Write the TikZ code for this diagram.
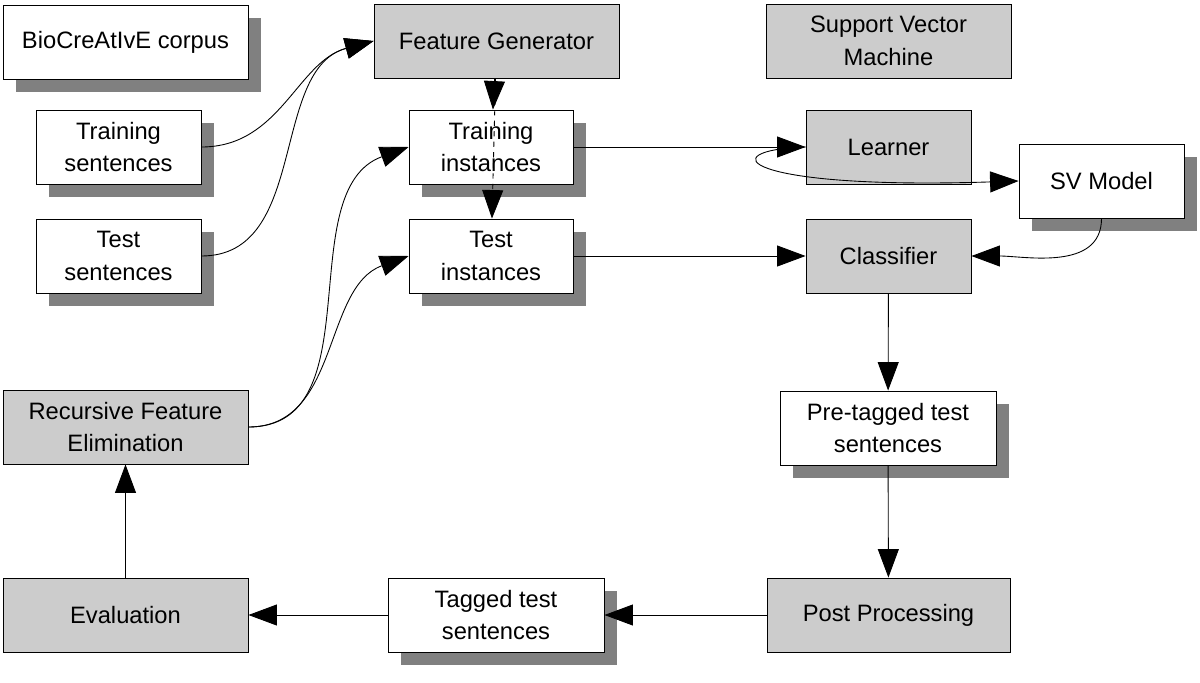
\documentclass[tikz,border=0pt]{standalone}
\usepackage{xcolor}
\usepackage{fontspec}
\setmainfont{Liberation Sans}
\usepackage{tikz}
\usetikzlibrary{arrows.meta,shapes,shadows}
\usetikzlibrary{positioning}

\definecolor{boxgray}{RGB}{204,204,204}
\definecolor{shadowgray}{RGB}{128,128,128}

\begin{document}
\begin{tikzpicture}[>={Triangle[length=0.57cm,width=0.42cm]}, line width=0.5pt,
  data/.style={draw, fill=white, minimum height=1.48cm, inner sep=0pt, align=center,
    font=\fontsize{13.5}{18.5}\selectfont,
    general shadow={fill=shadowgray, draw=none, shadow xshift=0.26cm, shadow yshift=-0.26cm}},
  proc/.style={draw, fill=boxgray, minimum height=1.48cm, inner sep=0pt, align=center,
    font=\fontsize{13.5}{18.5}\selectfont}]

\useasboundingbox (0,0) rectangle (24,13.64);

\node[data, minimum width=4.9cm] (corpus) at (2.51, 12.80) {BioCreAtIvE corpus};
\node[data, minimum width=3.3cm] (trsent) at (2.37, 10.70) {Training\\sentences};
\node[data, minimum width=3.3cm] (tesent) at (2.37, 8.52) {Test\\sentences};

\node[proc, minimum width=4.9cm] (featgen) at (9.93, 12.82) {Feature Generator};
\node[proc, minimum width=4.9cm] (svm) at (17.77, 12.82) {Support Vector\\Machine};

\node[data, minimum width=3.28cm] (trinst) at (9.82, 10.70) {Training\\instances};
\node[data, minimum width=3.28cm] (teinst) at (9.82, 8.52) {Test\\instances};

\node[proc, minimum width=3.3cm] (learner) at (17.77, 10.70) {Learner};
\node[data, minimum width=3.3cm] (svmodel) at (22.03, 10.02) {SV Model};
\node[proc, minimum width=3.3cm] (classif) at (17.77, 8.52) {Classifier};

\node[data, minimum width=4.32cm] (pretag) at (17.76, 5.08) {Pre-tagged test\\sentences};
\node[proc, minimum width=4.86cm] (post) at (17.77, 1.34) {Post Processing};
\node[data, minimum width=4.32cm] (tagged) at (9.92, 1.34) {Tagged test\\sentences};
\node[proc, minimum width=4.9cm] (eval) at (2.51, 1.34) {Evaluation};
\node[proc, minimum width=4.9cm] (rfe) at (2.51, 5.10) {Recursive Feature\\Elimination};

% feature generation
\path[draw] [->] (trsent.east) to[out=0, in=195] (featgen.west);
\path[draw] [->] (tesent.east) to[out=0, in=195] (featgen.west);
\path[draw] [->] (featgen) -- (trinst);
\path[draw] [->, dashed] (featgen) -- (teinst);
\path[draw] [->] (rfe.east) to[out=0, in=200] (trinst.west);
\path[draw] [->] (rfe.east) to[out=0, in=200] (teinst.west);

% svm
\path[draw] [->] (trinst) -- (learner);
\path[draw] [->] (learner.west) .. controls +(-1.9,-0.06) and +(-5.58,-0.18) .. (svmodel.west);
\path[draw] [->] (teinst) -- (classif);
\path[draw] [->] (svmodel.south) to[out=-90, in=0] (classif.east);

% evaluation loop
\path[draw] [->] (classif) -- (pretag);
\path[draw] [->] (pretag) -- (post);
\path[draw] [->] (post) -- (tagged);
\path[draw] [->] (tagged) -- (eval);
\path[draw] [->] (eval) -- (rfe);

\end{tikzpicture}
\end{document}
